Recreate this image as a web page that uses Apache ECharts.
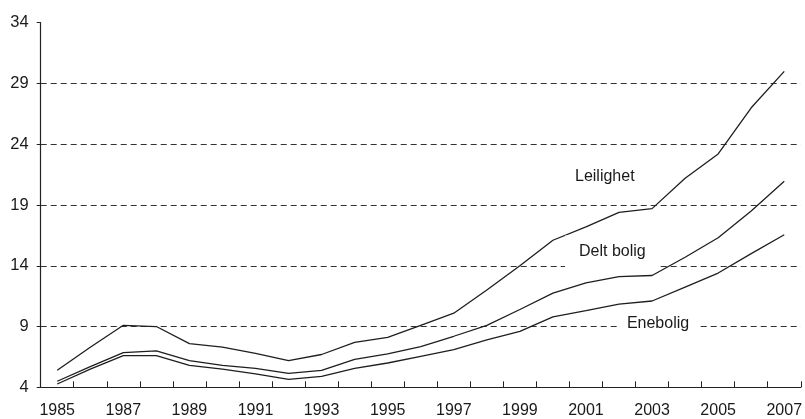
<!DOCTYPE html>
<html>
<head>
<meta charset="utf-8">
<script src="https://cdn.jsdelivr.net/npm/echarts@6/dist/echarts.min.js"></script>
<style>
html,body{margin:0;padding:0;background:#fff;}
#c{width:805px;height:419px;}
</style>
</head>
<body>
<div id="c"></div>
<script>
var years = ['1985','1986','1987','1988','1989','1990','1991','1992','1993','1994','1995','1996','1997','1998','1999','2000','2001','2002','2003','2004','2005','2006','2007'];
var leilighet = [5.4, 7.3, 9.1, 9.0, 7.6, 7.3, 6.8, 6.2, 6.7, 7.7, 8.1, 9.1, 10.1, 12.0, 14.0, 16.1, 17.2, 18.4, 18.7, 21.2, 23.2, 27.0, 30.0];
var deltBolig = [4.5, 5.7, 6.85, 7.0, 6.2, 5.8, 5.55, 5.15, 5.4, 6.3, 6.75, 7.35, 8.2, 9.1, 10.4, 11.75, 12.6, 13.1, 13.2, 14.7, 16.3, 18.5, 20.95];
var enebolig = [4.27, 5.5, 6.6, 6.6, 5.8, 5.5, 5.1, 4.65, 4.9, 5.55, 6.0, 6.55, 7.1, 7.9, 8.6, 9.8, 10.3, 10.85, 11.1, 12.25, 13.4, 15.0, 16.55];
var seriesNames = ['Leilighet', 'Delt bolig', 'Enebolig'];
// label anchor: [category index (fractional), value]
var labelPos = [[16.57, 21.36], [16.8, 15.18], [18.18, 9.28]];
var yTicks = {min: 4, max: 34, interval: 5};

var font = "'Liberation Sans', Arial, sans-serif";
var lineColor = '#1e1e1e';
function mkLine(name, data) {
  return {
    name: name, type: 'line', data: data, symbol: 'none',
    lineStyle: {color: lineColor, width: 1.3}, z: 2, animation: false
  };
}
var pads = [[4, 6], [8, 14], [4, 8]];
var chart = echarts.init(document.getElementById('c'), null, {renderer: 'canvas'});
chart.setOption({
  backgroundColor: '#ffffff',
  animation: false,
  grid: {left: 40.7, right: 2, top: 22.7, bottom: 31.7, containLabel: false},
  xAxis: {
    type: 'category', data: years, boundaryGap: true,
    axisLine: {lineStyle: {color: '#222', width: 1.2}},
    axisTick: {show: true, inside: true, length: 6, interval: 0, lineStyle: {color: '#222', width: 1}},
    axisLabel: {interval: 1, color: '#1a1a1a', fontFamily: font, fontSize: 16, margin: 15},
    splitLine: {show: false}
  },
  yAxis: {
    type: 'value', min: yTicks.min, max: yTicks.max, interval: yTicks.interval,
    axisLine: {show: true, lineStyle: {color: '#222', width: 1.2}},
    axisTick: {show: true, inside: false, length: 4, lineStyle: {color: '#222'}},
    axisLabel: {color: '#1a1a1a', fontFamily: font, fontSize: 16.5, margin: 12},
    splitLine: {show: true, showMinLine: false, showMaxLine: false, lineStyle: {color: '#333', width: 1, type: [6, 4]}}
  },
  series: [
    mkLine(seriesNames[0], leilighet),
    mkLine(seriesNames[1], deltBolig),
    mkLine(seriesNames[2], enebolig)
  ]
});

function toPixel(pos) {
  var i0 = Math.floor(pos[0]);
  var f = pos[0] - i0;
  var p0 = chart.convertToPixel({gridIndex: 0}, [i0, pos[1]]);
  var p1 = chart.convertToPixel({gridIndex: 0}, [i0 + 1, pos[1]]);
  return [p0[0] + f * (p1[0] - p0[0]), p0[1]];
}
chart.setOption({
  graphic: seriesNames.map(function (n, i) {
    var p = toPixel(labelPos[i]);
    return {
      type: 'text', x: p[0], y: p[1], z: 100, silent: true,
      style: {
        text: n, fill: '#1a1a1a', font: '16px ' + font,
        align: 'center', verticalAlign: 'middle',
        backgroundColor: '#fff', padding: pads[i]
      }
    };
  })
});
</script>
</body>
</html>
